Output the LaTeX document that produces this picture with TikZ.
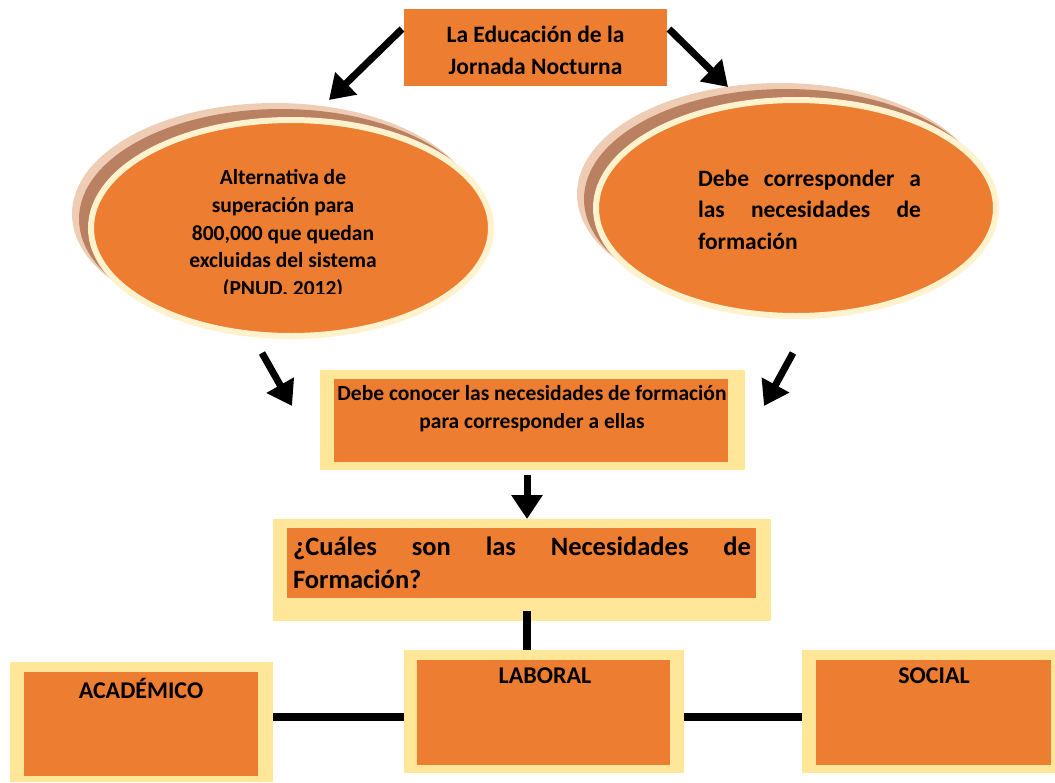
\documentclass[tikz,border=0pt]{standalone}
\usepackage{fontspec}
\setmainfont{Carlito}
\usetikzlibrary{shapes.geometric,arrows.meta}
\definecolor{org}{HTML}{ED7D31}
\definecolor{cream}{HTML}{FFE699}
\definecolor{pale}{HTML}{FFF2CC}
\definecolor{shbrown}{HTML}{B98062}
\definecolor{shlight}{HTML}{EFCDB4}
\begin{document}
\begin{tikzpicture}[x=1pt,y=-1pt,
  orgbox/.style={fill=org, draw=none, inner sep=0pt, outer sep=0pt},
  framebox/.style={fill=cream, draw=none, inner sep=0pt, outer sep=0pt},
  oval/.style={ellipse, fill=org, draw=pale, line width=6pt, inner sep=0pt, outer sep=0pt, minimum width=400pt, minimum height=216pt},
  shadowA/.style={ellipse, fill=shlight, draw=none, inner sep=0pt, minimum width=406pt, minimum height=222pt},
  shadowB/.style={ellipse, fill=shbrown, draw=none, inner sep=0pt, minimum width=404pt, minimum height=220pt},
  txt/.style={font=\bfseries, inner sep=0pt, outer sep=0pt, text=black},
  arr/.style={line width=7pt, -{Triangle[width=30pt,length=24pt]}},
  conn/.style={line width=8pt}]
\useasboundingbox (0,0) rectangle (1055,782);

% top box
\node[orgbox, minimum width=263pt, minimum height=77pt] (top) at (535.5,47.5) {};
\node[txt, align=center, font=\bfseries\fontsize{23.5}{32}\selectfont] (toptxt) at (535.5,50) {La Educación de la\\Jornada Nocturna};

% left ellipse
\node[shadowA] (lsa) at (275,214) {};
\node[shadowB] (lsb) at (281,219) {};
\node[oval] (lov) at (291,228) {};
\begin{scope}
\clip (170,155) rectangle (396,293);
\node[txt, anchor=north, align=center, font=\bfseries\fontsize{21.5}{27.7}\selectfont] (lovtxt) at (283,169.5) {Alternativa de\\superación para\\800,000 que quedan\\excluidas del sistema\\(PNUD. 2012)};
\end{scope}

% right ellipse
\node[shadowA] (rsa) at (780,194) {};
\node[shadowB] (rsb) at (786,199) {};
\node[oval] (rov) at (796,208) {};
\node[txt, anchor=north west, align=left, font=\bfseries\fontsize{23.5}{31.5}\selectfont] (rovtxt) at (698,170) {\hbox to 223pt{Debe\hfill corresponder\hfill a}\\\hbox to 223pt{las\hfill necesidades\hfill de}\\formación};

% arrows from top
\coordinate (a1s) at (402,29);
\coordinate (a1e) at (329,100);
\coordinate (a2s) at (669,29);
\coordinate (a2e) at (728,87);
\draw[arr] (a1s) -- (a1e);
\draw[arr] (a2s) -- (a2e);

% middle box
\node[framebox, minimum width=425pt, minimum height=100pt] (mid) at (532.5,420) {};
\node[orgbox, minimum width=394pt, minimum height=83pt] (midin) at (531,420.5) {};
\node[txt, align=center, font=\bfseries\fontsize{21.5}{28}\selectfont] (midtxt) at (532,409) {Debe conocer las necesidades de formación\\para corresponder a ellas};

\coordinate (a3s) at (262,353);
\coordinate (a3e) at (292,406);
\coordinate (a4s) at (793,353);
\coordinate (a4e) at (764,406);
\draw[arr] (a3s) -- (a3e);
\draw[arr] (a4s) -- (a4e);

% cuales box
\node[framebox, minimum width=498pt, minimum height=102pt] (cua) at (522,570) {};
\node[orgbox, minimum width=469pt, minimum height=70pt] (cuain) at (521.5,563) {};
\node[txt, anchor=north west, align=left, font=\bfseries\fontsize{26.5}{33}\selectfont] (cuatxt) at (293,537) {\hbox to 458pt{¿Cuáles\hfill son\hfill las\hfill Necesidades\hfill de}\\Formación?};

\coordinate (a5s) at (527,475);
\draw[arr] (a5s) -- (a5s |- cua.north);

% bottom boxes
\node[framebox, minimum width=263pt, minimum height=120pt] (aca) at (141.5,722) {};
\node[orgbox, minimum width=234pt, minimum height=104pt] (acain) at (141,724) {};
\node[txt, font=\bfseries\fontsize{24}{28}\selectfont] (acatxt) at (141,688) {ACADÉMICO};

\node[framebox, minimum width=280pt, minimum height=123pt] (lab) at (544,711.5) {};
\node[orgbox, minimum width=253pt, minimum height=105pt] (labin) at (543.5,712.5) {};
\node[txt, font=\bfseries\fontsize{24}{28}\selectfont] (labtxt) at (545,676) {LABORAL};

\node[framebox, minimum width=253pt, minimum height=123pt] (soc) at (928.5,711.5) {};
\node[orgbox, minimum width=235pt, minimum height=105pt] (socin) at (933.5,712.5) {};
\node[txt, font=\bfseries\fontsize{24}{28}\selectfont] (soctxt) at (934,676) {SOCIAL};

% connectors
\coordinate (v1) at (527,611);
\draw[conn] (v1) -- (v1 |- lab.north);
\coordinate (h1) at (0,717);
\draw[conn] (aca.east |- h1) -- (lab.west |- h1);
\draw[conn] (lab.east |- h1) -- (soc.west |- h1);
\end{tikzpicture}
\end{document}
